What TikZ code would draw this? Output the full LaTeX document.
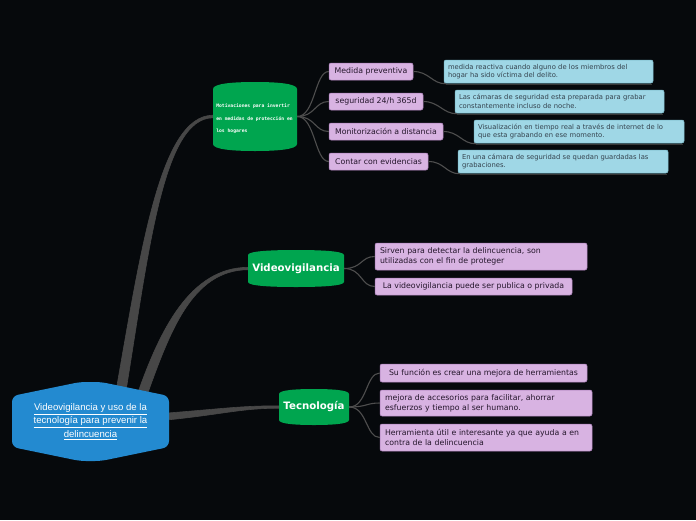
\documentclass[tikz,border=0pt]{standalone}
\usepackage{fontspec}
\setmainfont{DejaVu Sans}
\newfontfamily\rootfont{Liberation Sans}
\newfontfamily\motfont{DejaVu Sans Mono}
\usetikzlibrary{calc}
\definecolor{bg}{HTML}{06090C}
\definecolor{rootblue}{HTML}{238AD0}
\definecolor{grn}{HTML}{00A54F}
\definecolor{pinkf}{HTML}{D8B3E2}
\definecolor{pinkd}{HTML}{A97DB8}
\definecolor{cyanf}{HTML}{9FD7E6}
\definecolor{cyand}{HTML}{7CBCCC}
\definecolor{linec}{HTML}{474747}
\definecolor{thinc}{HTML}{4E4E4E}
\definecolor{ptext}{HTML}{24162B}
\definecolor{ctext}{HTML}{35434E}
\newcommand\greencyl[5]{%
 \pgfmathsetmacro\gcXa{#1}\pgfmathsetmacro\gcYa{#2}%
 \pgfmathsetmacro\gcXb{#3}\pgfmathsetmacro\gcYb{#4}%
 \pgfmathsetmacro\gcR{#5}%
 \pgfmathsetmacro\gcXm{(#1+#3)/2}\pgfmathsetmacro\gcQ{(#3-#1)*0.25}%
 \fill[grn] (\gcXa,\gcYa+\gcR) .. controls (\gcXa,\gcYa+0.2*\gcR) and (\gcXa+\gcQ,\gcYa) .. (\gcXm,\gcYa)
   .. controls (\gcXb-\gcQ,\gcYa) and (\gcXb,\gcYa+0.2*\gcR) .. (\gcXb,\gcYa+\gcR)
   -- (\gcXb,\gcYb-\gcR) .. controls (\gcXb,\gcYb-0.2*\gcR) and (\gcXb-\gcQ,\gcYb) .. (\gcXm,\gcYb)
   .. controls (\gcXa+\gcQ,\gcYb) and (\gcXa,\gcYb-0.2*\gcR) .. (\gcXa,\gcYb-\gcR) -- cycle;}
\begin{document}
\begin{tikzpicture}[x=1pt,y=-1pt,
  thick line/.style={fill=linec, draw=linec, line width=0.6pt, line join=round},
  thin line/.style={draw=thinc, line width=1.1pt},
  gtext/.style={text=white, inner sep=0pt, align=center},
  pinkbox/.style={fill=pinkf, draw=pinkd, line width=0.5pt, rounded corners=2pt,
     font=\fontsize{7.8}{10}\selectfont, text=ptext, inner sep=0pt, minimum height=17pt},
  pinkmulti/.style={pinkbox, align=left, inner xsep=5pt, text width=#1},
  cyanbox/.style={fill=cyanf, draw=cyand, line width=0.5pt, rounded corners=2pt,
     font=\fontsize{6.8}{8.6}\selectfont, text=ctext, inner xsep=4pt, inner ysep=0pt,
     minimum height=23pt, align=left, text width=#1},
  shadowline/.style={draw=thinc!70!black, line width=1pt}
]
\useasboundingbox (0,0) rectangle (696,520);
\fill[bg] (0,0) rectangle (696,520);

% named nodes (anchors for connectors)
\path node[gtext, minimum width=157pt, minimum height=79pt] (root) at (90.5,421.5) {}
      node[gtext, minimum width=84pt, minimum height=69pt] (mot) at (255,116.5) {}
      node[gtext, minimum width=96pt, minimum height=37pt] (vid) at (296,268.5) {}
      node[gtext, minimum width=70pt, minimum height=36pt] (tec) at (314,407) {};

% main tapered connectors (behind root)
\path[thick line] ($(root.north)+(25,12)$) .. controls (141,250) and (160,115.8) .. ($(mot.west)+(0,-1.3)$)
   -- ($(mot.west)+(0,1.3)$) .. controls (163,118.2) and (149,250) .. ($(root.north)+(35,12)$) -- cycle;
\path[thick line] ($(root.north)+(47,12)$) .. controls (160,330) and (190,267.8) .. ($(vid.west)+(0,-1.2)$)
   -- ($(vid.west)+(0,1.2)$) .. controls (192,270.2) and (170,332) .. ($(root.north)+(57,12)$) -- cycle;
\path[thick line] ($(root.east)+(-8,-8)$) .. controls (220,409) and (240,405.8) .. ($(tec.west)+(0,-1.2)$)
   -- ($(tec.west)+(0,1.2)$) .. controls (240,408.2) and (220,415) .. ($(root.east)+(-8,-1)$) -- cycle;

% root shape
\fill[rootblue, rounded corners=6pt] (12,396) -- (80,382) -- (101,382) -- (169,396)
   -- (169,447) -- (101,461) -- (80,461) -- (12,447) -- cycle;
\node[gtext, font=\rootfont\fontsize{9.6}{13.5}\selectfont] at (root.center)
  {\underline{Videovigilancia y uso de la}\\\underline{tecnología para prevenir la}\\\underline{delincuencia}};

% green cylinders
\greencyl{213}{82}{297}{151}{7}
\greencyl{248}{250}{344}{287}{5}
\greencyl{279}{389}{349}{425}{5}
\node[gtext, align=left, font=\motfont\bfseries\fontsize{4.7}{12.5}\selectfont] at ($(mot.center)+(-0.5,2.5)$)
  {Motivaciones para invertir\\en medidas de protección en\\los hogares};
\node[gtext, font=\bfseries\fontsize{10.2}{11}\selectfont] at (vid.center) {Videovigilancia};
\node[gtext, font=\bfseries\fontsize{10.2}{11}\selectfont] at (tec.center) {Tecnología};

% pink boxes (motivaciones)
\node[pinkbox, minimum width=84pt] (p1) at (371,71.5) {Medida preventiva};
\node[pinkbox, minimum width=94pt] (p2) at (376,101.5) {seguridad 24/h 365d};
\node[pinkbox, minimum width=114pt] (p3) at (386,131.5) {Monitorización a distancia};
\node[pinkbox, minimum width=99pt] (p4) at (378.5,161.5) {Contar con evidencias};

% cyan boxes
\node[cyanbox=201pt] (c1) at (548.5,71.5) {medida reactiva cuando alguno de los miembros del\\hogar ha sido víctima del delito.};
\node[cyanbox=201pt] (c2) at (559.5,101.5) {Las cámaras de seguridad esta preparada para grabar\\constantemente incluso de noche.};
\node[cyanbox=202pt] (c3) at (579,131.5) {Visualización en tiempo real a través de internet de lo\\que esta grabando en ese momento.};
\node[cyanbox=202pt] (c4) at (563,161.5) {En una cámara de seguridad se quedan guardadas las\\grabaciones.};

% videovigilancia children
\node[pinkmulti=202pt, minimum height=27pt] (v1) at (481,256.5) {Sirven para detectar la delincuencia, son\\utilizadas con el fin de proteger};
\node[pinkbox, minimum width=197pt] (v2) at (473.5,286.5) {La videovigilancia puede ser publica o privada};

% tecnologia children
\node[pinkbox, minimum width=207pt, minimum height=18pt] (t1) at (483.5,373) {Su función es crear una mejora de herramientas};
\node[pinkmulti=202pt, minimum height=26pt] (t2) at (486,403) {mejora de accesorios para facilitar, ahorrar\\esfuerzos y tiempo al ser humano.};
\node[pinkmulti=202pt, minimum height=27pt] (t3) at (486,437.5) {Herramienta útil e interesante ya que ayuda a en\\contra de la delincuencia};

% thin connectors
\foreach \p in {p1,p2,p3,p4}{
  \draw[thin line] (mot.east) .. controls +(18,0) and +(-14,0) .. (\p.west);}
\foreach \p/\c in {p1/c1,p2/c2,p3/c3,p4/c4}{
  \draw[thin line] (\p.east) .. controls +(16,0) and +(-14,0) .. ($(\c.south west)+(2,0.5)$);
  \draw[shadowline] ($(\c.south west)+(2,1)$) -- ($(\c.south east)+(-1,1)$);}
\foreach \p in {v1,v2}{
  \draw[thin line] (vid.east) .. controls +(18,0) and +(-14,0) .. (\p.west);}
\foreach \p in {t1,t2,t3}{
  \draw[thin line] (tec.east) .. controls +(18,0) and +(-14,0) .. (\p.west);}
\end{tikzpicture}
\end{document}
